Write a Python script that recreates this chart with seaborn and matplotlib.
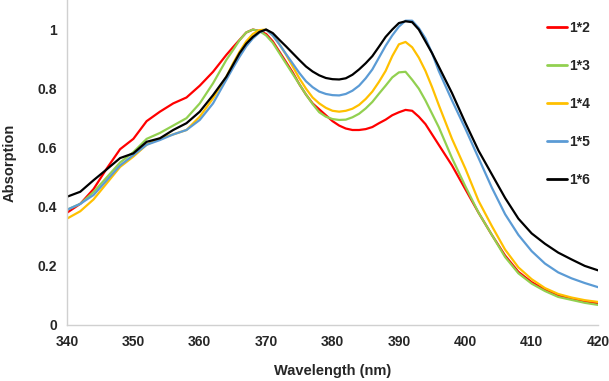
import numpy as np
import pandas as pd
import matplotlib
matplotlib.use('agg')
import matplotlib.pyplot as plt
import seaborn as sns
from matplotlib.ticker import FuncFormatter

# finer steps around the two bands
wavelength = list(range(340, 365, 2)) + list(range(365, 397)) + list(range(398, 421, 2))

abs_1x2 = [0.38, 0.41, 0.46, 0.53, 0.595, 0.63, 0.69, 0.722, 0.75, 0.77, 0.81, 0.857, 0.914,
           0.94, 0.965, 0.99, 1.0, 0.995, 0.985, 0.96, 0.925, 0.89, 0.855, 0.815, 0.78,
           0.75, 0.73, 0.71, 0.69, 0.675, 0.665, 0.66, 0.66, 0.663, 0.67, 0.683, 0.695,
           0.71, 0.72, 0.728, 0.725, 0.705, 0.68, 0.645, 0.61,
           0.54, 0.46, 0.38, 0.305, 0.235, 0.18, 0.145, 0.12, 0.10, 0.088, 0.08, 0.073]
abs_1x3 = [0.39, 0.41, 0.45, 0.50, 0.55, 0.585, 0.63, 0.65, 0.675, 0.70, 0.75, 0.818, 0.897,
           0.93, 0.964, 0.99, 1.0, 0.995, 0.98, 0.955, 0.92, 0.885, 0.85, 0.815, 0.78,
           0.748, 0.72, 0.705, 0.697, 0.694, 0.695, 0.703, 0.715, 0.733, 0.755, 0.783, 0.81,
           0.838, 0.855, 0.857, 0.83, 0.8, 0.76, 0.715, 0.67,
           0.565, 0.47, 0.38, 0.305, 0.23, 0.175, 0.14, 0.115, 0.095, 0.085, 0.075, 0.068]
abs_1x4 = [0.36, 0.385, 0.425, 0.48, 0.535, 0.57, 0.61, 0.632, 0.645, 0.66, 0.705, 0.767, 0.84,
           0.885, 0.925, 0.96, 0.985, 0.998, 1.0, 0.98, 0.95, 0.915, 0.875, 0.835, 0.80,
           0.77, 0.75, 0.735, 0.725, 0.722, 0.725, 0.732, 0.745, 0.765, 0.79, 0.823, 0.86,
           0.91, 0.95, 0.958, 0.94, 0.905, 0.86, 0.805, 0.745,
           0.63, 0.53, 0.42, 0.335, 0.255, 0.195, 0.155, 0.125, 0.105, 0.093, 0.084, 0.078]
abs_1x5 = [0.39, 0.41, 0.44, 0.49, 0.54, 0.575, 0.61, 0.626, 0.645, 0.66, 0.694, 0.75, 0.83,
           0.87, 0.908, 0.943, 0.97, 0.99, 1.0, 0.98, 0.95, 0.917, 0.885, 0.853, 0.825,
           0.805, 0.79, 0.782, 0.778, 0.777, 0.782, 0.793, 0.81, 0.835, 0.865, 0.905, 0.945,
           0.98, 1.01, 1.03, 1.03, 1.005, 0.97, 0.92, 0.86,
           0.76, 0.665, 0.565, 0.465, 0.375, 0.305, 0.25, 0.208, 0.178, 0.158, 0.142, 0.128]
abs_1x6 = [0.434, 0.451, 0.49, 0.527, 0.565, 0.581, 0.62, 0.632, 0.66, 0.683, 0.722, 0.778, 0.84,
           0.88, 0.92, 0.952, 0.975, 0.992, 1.0, 0.988, 0.965, 0.943, 0.92, 0.897, 0.875,
           0.858, 0.845, 0.836, 0.832, 0.831, 0.835, 0.847, 0.865, 0.886, 0.91, 0.942, 0.975,
           1.0, 1.022, 1.028, 1.025, 1.0, 0.96, 0.92, 0.875,
           0.785, 0.685, 0.59, 0.51, 0.43, 0.36, 0.31, 0.275, 0.245, 0.222, 0.20, 0.185]

labels = ['1*2', '1*3', '1*4', '1*5', '1*6']
colors = ['#FF0000', '#92D050', '#FFC000', '#5B9BD5', '#000000']

series = [abs_1x2, abs_1x3, abs_1x4, abs_1x5, abs_1x6]
frames = []
for lab, vals in zip(labels, series):
    frames.append(pd.DataFrame({'Wavelength': wavelength, 'Absorption': vals, 'Sample': lab}))
df = pd.concat(frames, ignore_index=True)

sns.set_style('white')
plt.rcParams['font.family'] = ['Liberation Sans', 'DejaVu Sans']

fig = plt.figure(figsize=(6.09, 3.81), dpi=100)
ax = fig.add_axes([0.110, 0.147, 0.872, 0.853])

sns.lineplot(data=df, x='Wavelength', y='Absorption', hue='Sample',
             palette=dict(zip(labels, colors)), linewidth=1.6, ax=ax)

ax.set_xlim(340, 420)
ax.set_ylim(0, 1.1)
ax.set_xticks(range(340, 421, 10))
ax.set_yticks([0, 0.2, 0.4, 0.6, 0.8, 1.0])
ax.yaxis.set_major_formatter(FuncFormatter(lambda v, p: '%g' % v))

for s in ['top', 'right']:
    ax.spines[s].set_visible(False)
for s in ['left', 'bottom']:
    ax.spines[s].set_color('#D0D0D0')
    ax.spines[s].set_linewidth(1.0)
ax.tick_params(axis='both', direction='inout', length=6, width=0.8, color='#A0A0A0',
               labelsize=10, pad=4)
for t in ax.get_xticklabels() + ax.get_yticklabels():
    t.set_fontweight('bold')

ax.set_xlabel('Wavelength (nm)', fontsize=10.5, fontweight='bold', labelpad=11)
ax.set_ylabel('Absorption', fontsize=10.5, fontweight='bold', labelpad=15)

leg = ax.legend(loc='upper right', bbox_to_anchor=(1.0, 0.96), frameon=False,
                fontsize=10, handlelength=1.45, handletextpad=0.15,
                labelspacing=1.72, borderaxespad=0.2)
for t in leg.get_texts():
    t.set_fontweight('bold')
for h in leg.get_lines():
    h.set_linewidth(2)

plt.savefig('out.png', dpi=100)
plt.close(fig)
